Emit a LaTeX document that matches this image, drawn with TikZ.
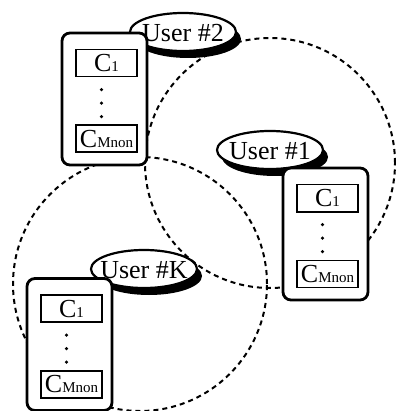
\documentclass[tikz,border=0pt]{standalone}
\usepackage{fontspec}
\setmainfont{Liberation Serif}
\usetikzlibrary{positioning,shapes.geometric,shadows}
\newcommand{\comp}[1]{C{\fontsize{15}{15}\selectfont #1}}

\begin{document}
\begin{tikzpicture}[
        x=1pt, y=-1pt,
        font=\fontsize{26}{28}\selectfont,
        node distance=1.5cm,
        term/.style={rectangle, draw, line width=2.8pt, rounded corners=8pt, fill=white, minimum width=85pt, minimum height=132pt},
        cbox/.style={rectangle, draw, line width=1.9pt, fill=white, minimum width=61pt, minimum height=27pt, inner sep=0pt},
        user/.style={ellipse, draw, line width=2.2pt, fill=white, minimum width=106pt, minimum height=38pt, inner sep=0pt,
            drop shadow={shadow xshift=5pt, shadow yshift=-7pt, fill=black, opacity=1},
            label={[inner sep=0pt, yshift=-1pt]center:#1}}
    ]
        \tikzset{cover/.style={draw, line width=2pt, dash pattern=on 5pt off 4pt}}
        \useasboundingbox (0,0) rectangle (395,411);

        % coverage of the users
        \coordinate (o1) at (270,163);
        \coordinate (oK) at (140,284);
        \path [cover] (o1) circle (125pt);
        \path [cover] (oK) circle (127pt);

        \node [user=User \#2] (u2) at (183,32) {};
        \node [user=User \#1] (u1) at (270,150) {};
        \node [user=User \#K] (uK) at (144,269) {};

        \node [term] (t2) at (104.5,99) {};
        \node [cbox, below=17pt of t2.north, xshift=2pt] (t2a) {\comp{1}};
        \node [cbox, above=13pt of t2.south, xshift=2pt] (t2b) {\comp{Mnon}};

        \node [term] (t1) at (325.5,234) {};
        \node [cbox, below=17pt of t1.north, xshift=2pt] (t1a) {\comp{1}};
        \node [cbox, above=13pt of t1.south, xshift=2pt] (t1b) {\comp{Mnon}};

        \node [term] (tK) at (69.5,344.5) {};
        \node [cbox, below=17pt of tK.north, xshift=2pt] (tKa) {\comp{1}};
        \node [cbox, above=13pt of tK.south, xshift=2pt] (tKb) {\comp{Mnon}};

        % dots between the components
        \foreach \t in {t1,t2,tK}
            \foreach \d in {58,71.5,85}
                \fill ([xshift=-3pt, yshift=-\d pt]\t.north) circle (1.8pt);
    \end{tikzpicture}
\end{document}
